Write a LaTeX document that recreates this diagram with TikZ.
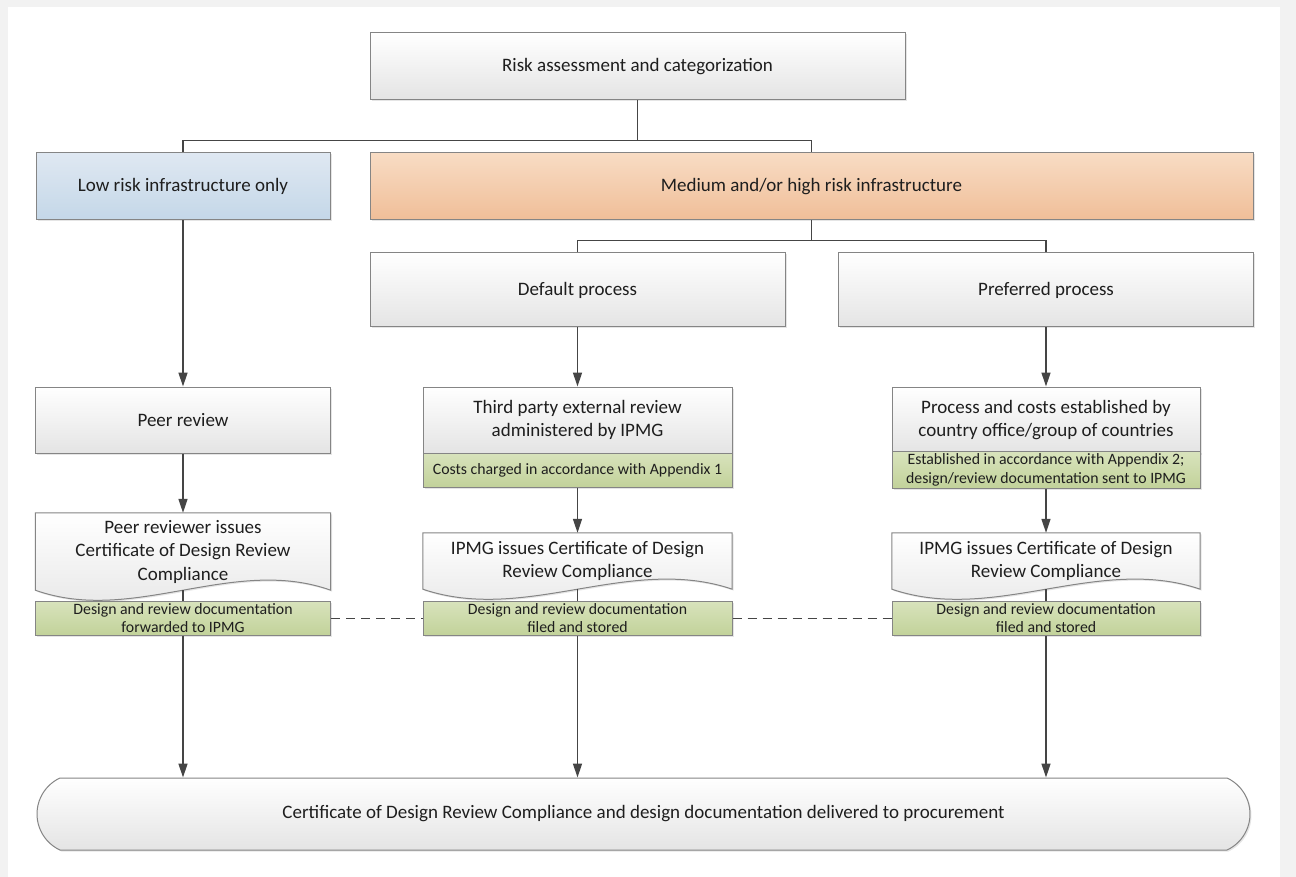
\documentclass[tikz,border=0pt]{standalone}
\usepackage{fontspec}
\setmainfont{Carlito}
\usepackage{tikz}
\usetikzlibrary{arrows.meta}
\usetikzlibrary{shapes.misc,shadows,backgrounds}

\definecolor{bggray}{HTML}{F2F2F2}
\definecolor{boxline}{HTML}{858585}
\definecolor{boxgray}{HTML}{E4E4E4}
\definecolor{linegray}{HTML}{454545}
\definecolor{textdark}{HTML}{1E1E1E}
\definecolor{lowtop}{HTML}{DFE8F2}
\definecolor{lowbot}{HTML}{C4D7E8}
\definecolor{medtop}{HTML}{F8DCC4}
\definecolor{medbot}{HTML}{F0BE98}
\definecolor{notetop}{HTML}{D8E3BC}
\definecolor{notebot}{HTML}{C2D29A}

% document shape with a wavy lower edge, drawn behind the node text
\newcommand{\wavebox}[2]{%
  \path[draw=boxline, line width=1pt, top color=white, bottom color=boxgray,
        drop shadow={opacity=.2, shadow xshift=1.5pt, shadow yshift=-1.5pt}]
    (#1.south west) -- (#1.north west) -- (#1.north east) -- (#1.south east)
    .. controls +({-#2/3},-35) and +({#2/3},35) .. (#1.south west) -- cycle;
}

\begin{document}
\begin{tikzpicture}[x=1pt,y=-1pt,
        box/.style={draw=boxline, line width=1pt, top color=white, bottom color=boxgray,
              align=center, text=textdark, inner sep=2pt,
              font=\fontsize{19}{23.5}\selectfont,
              drop shadow={opacity=.2, shadow xshift=1.5pt, shadow yshift=-1.5pt}},
        lowbox/.style={box, top color=lowtop, bottom color=lowbot},
        medbox/.style={box, top color=medtop, bottom color=medbot},
        note/.style={box, top color=notetop, bottom color=notebot,
              font=\fontsize{15.8}{18.5}\selectfont, drop shadow={opacity=0}},
        doc/.style={align=center, text=textdark, inner sep=0pt,
              font=\fontsize{19}{23.5}\selectfont},
        link/.style={draw=linegray, line width=1.4pt},
        arr/.style={link, -{Triangle[length=14pt,width=9pt]}},
    ]
    \begin{pgfonlayer}{background}
    \fill[bggray] (0,0) rectangle (1296,877);
    \fill[white] (8,7) rectangle (1280,877);
    \end{pgfonlayer}

    % top level
    \node[box, minimum width=535, minimum height=67] (risk) at (637.5,66.5) {Risk assessment and categorization};
    \node[lowbox, minimum width=294, minimum height=67] (low) at (183,186.5) {Low risk infrastructure only};
    \node[medbox, minimum width=883, minimum height=67] (med) at (811.5,186.5) {Medium and/or high risk infrastructure};
    \node[box, minimum width=415, minimum height=74] (default) at (577.5,290) {Default process};
    \node[box, minimum width=415, minimum height=74] (preferred) at (1046,290) {Preferred process};

    % review boxes
    \node[box, minimum width=295, minimum height=66] (peer) at (183,420) {Peer review};
    \node[box, minimum width=309, minimum height=66] (third) at (577.5,420) {Third party external review\\administered by IPMG};
    \node[note, minimum width=309, minimum height=34] (costs) at (577.5,470) {Costs charged in accordance with Appendix 1};
    \node[box, minimum width=308, minimum height=66] (process) at (1046,420) {Process and costs established by\\country office/group of countries};
    \node[note, minimum width=308, minimum height=34] (established) at (1046,470) {Established in accordance with Appendix 2;\\design/review documentation sent to IPMG};

    % certificates
    \node[doc, minimum width=295, minimum height=77] (peerdoc) at (183,551.5) {Peer reviewer issues\\Certificate of Design Review\\Compliance};
    \node[doc, minimum width=309, minimum height=56] (ipmgdoc) at (577.5,561) {IPMG issues Certificate of Design\\Review Compliance};
    \node[doc, minimum width=308, minimum height=56] (countrydoc) at (1046,561) {IPMG issues Certificate of Design\\Review Compliance};
    \begin{pgfonlayer}{background}
    \wavebox{peerdoc}{295}
    \wavebox{ipmgdoc}{309}
    \wavebox{countrydoc}{308}
    \end{pgfonlayer}
    \node[note, minimum width=295, minimum height=34] (forwarded) at (183,618) {Design and review documentation\\forwarded to IPMG};
    \node[note, minimum width=309, minimum height=34] (filed) at (577.5,618) {Design and review documentation\\filed and stored};
    \node[note, minimum width=308, minimum height=34] (stored) at (1046,618) {Design and review documentation\\filed and stored};

    % procurement
    \node[box, rounded rectangle, rounded rectangle arc length=130, minimum width=1217, minimum height=72] (final) at (643.5,814) {Certificate of Design Review Compliance and design documentation delivered to procurement};

    % tree lines
    \draw[link] (risk.south) -- ++(0,40) -| (low.north);
    \draw[link] (risk.south) -- ++(0,40) -| (med.north);
    \draw[link] (med.south) -- ++(0,20) -| (default.north);
    \draw[link] (med.south) -- ++(0,20) -| (preferred.north);

    % arrows
    \draw[arr] (low.south) -- (peer.north);
    \draw[arr] (default.south) -- (third.north);
    \draw[arr] (preferred.south) -- (process.north);
    \draw[arr] (peer.south) -- (peerdoc.north);
    \draw[arr] (costs.south) -- (ipmgdoc.north);
    \draw[arr] (established.south) -- (countrydoc.north);
    \draw[link] (peerdoc.south) -- (forwarded.north);
    \draw[link] (ipmgdoc.south) -- (filed.north);
    \draw[link] (countrydoc.south) -- (stored.north);
    \draw[arr] (forwarded.south) -- (forwarded.south |- final.north);
    \draw[arr] (filed.south) -- (filed.south |- final.north);
    \draw[arr] (stored.south) -- (stored.south |- final.north);

    % dashed links between the stored documents
    \draw[link, line width=1pt, dash pattern=on 9pt off 6pt] (forwarded.east) -- (filed.west);
    \draw[link, line width=1pt, dash pattern=on 9pt off 6pt] (filed.east) -- (stored.west);
\end{tikzpicture}
\end{document}
